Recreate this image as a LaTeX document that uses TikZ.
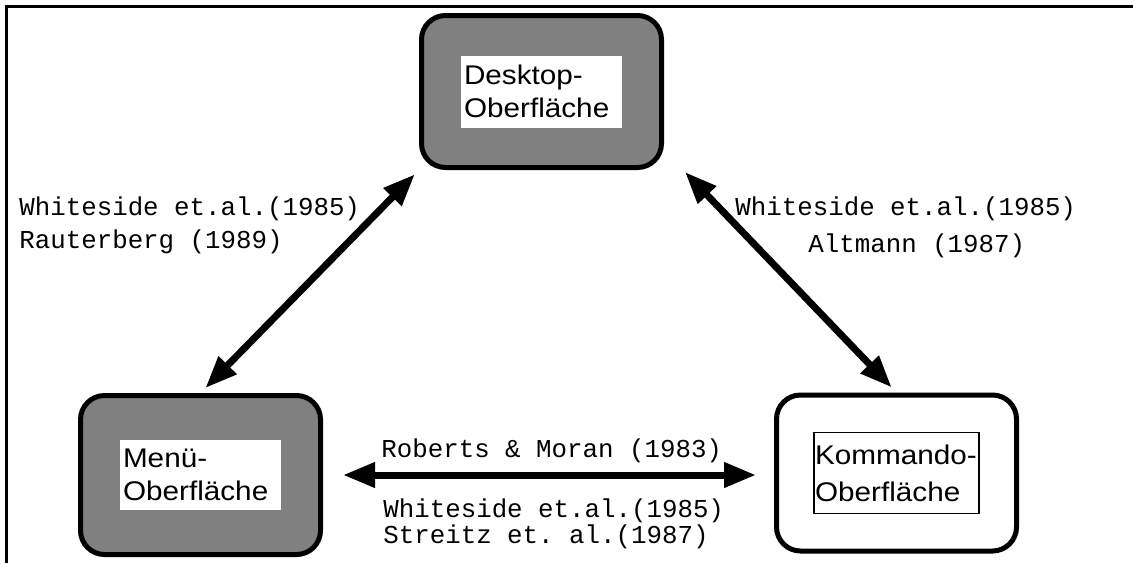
\documentclass[tikz,border=0pt]{standalone}
\usepackage{fontspec}
\setmonofont{Liberation Mono}
\newfontfamily\boxfont[FakeStretch=1.1]{Liberation Sans}
\usepackage{tikz}
\usetikzlibrary{arrows.meta,calc}
\definecolor{oberflgray}{gray}{0.5}
\tikzset{oberfl/.style={draw, line width=2.5pt, rounded corners=12pt, minimum width=120pt, minimum height=78pt, inner sep=0pt}, lbl/.style={fill=white, inner xsep=1.5pt, inner ysep=0pt, text width=77.5pt, align=left, minimum height=36pt, font=\boxfont\fontsize{13.5}{16.5}\selectfont}, cite/.style={inner sep=0pt, anchor=base west, font=\ttfamily\fontsize{12.9}{15}\selectfont}, biarrow/.style={line width=3.5pt, {Triangle[length=16pt,width=12pt]}-{Triangle[length=16pt,width=12pt]}}}

\begin{document}
\begin{tikzpicture}[x=0.5pt,y=-0.5pt]
\useasboundingbox (0,0) rectangle (1133,563);
\draw[line width=1.5pt] (6.5,563) -- (6.5,6.5) -- (1133,6.5);
% die drei Oberflaechen
\node[oberfl, fill=oberflgray, minimum height=76pt] (desk) at (541.5,91.5) {};
\node[oberfl, fill=oberflgray, minimum height=79.5pt] (menu) at (200.5,475) {};
\node[oberfl, fill=white] (kom) at (896.5,473) {};
\node[lbl] (desklbl) at (desk) {Desktop-\\Oberfläche};
\node[lbl, minimum height=35pt] (menulbl) at (menu) {Menü-\\Oberfläche};
\node[lbl, draw, line width=0.75pt, text width=81.5pt, inner xsep=0.5pt, minimum height=40.5pt] (komlbl) at (kom) {\mbox{Kommando-}\\[2pt]Oberfläche};
% Pfeile
\coordinate (deskR) at ($(desk.south east)+(21,2)$);
\draw[biarrow, shorten <=3.5pt, shorten >=3pt] (menu.north) -- (desk.south west);
\draw[biarrow, shorten <=3.5pt] (kom.north) -- (deskR);
\draw[biarrow, shorten <=10pt, shorten >=9pt] (menu.east) -- (menu.east -| kom.west);
% Studien
\node[cite] (wsL) at (19,215) {Whiteside et.al.(1985)};
\node[cite] (rauter) at (19,248) {Rauterberg (1989)};
\node[cite] (wsR) at (735,215) {Whiteside et.al.(1985)};
\node[cite] (altm) at (808,252) {Altmann (1987)};
\node[cite] (robmor) at (381,457) {Roberts \& Moran (1983)};
\node[cite] (wsB) at (383,517) {Whiteside et.al.(1985)};
\node[cite] (streitz) at (383,543) {Streitz et. al.(1987)};
\end{tikzpicture}
\end{document}
